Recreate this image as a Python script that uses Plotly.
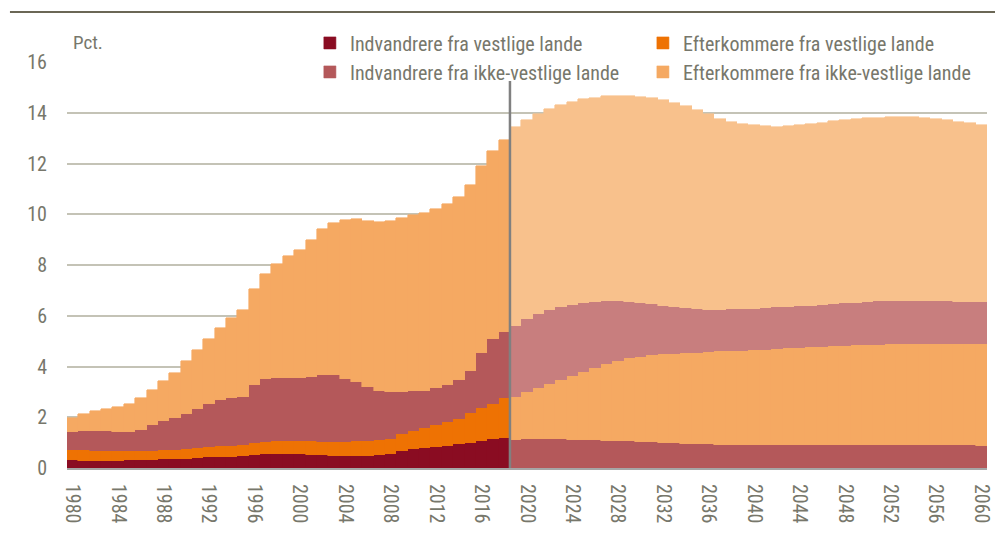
import plotly.graph_objects as go

# Historical years and series (pct.)
years_hist = list(range(1980, 2019))
indv_vest_hist = [0.30, 0.27, 0.27, 0.27, 0.29, 0.30, 0.31, 0.33, 0.34, 0.35,
                  0.36, 0.39, 0.42, 0.43, 0.45, 0.47, 0.50, 0.54, 0.56, 0.56,
                  0.54, 0.51, 0.50, 0.48, 0.46, 0.46, 0.49, 0.50, 0.57, 0.68,
                  0.75, 0.79, 0.82, 0.88, 0.93, 0.99, 1.06, 1.13, 1.18]
efterk_vest_hist = [0.42, 0.42, 0.40, 0.40, 0.37, 0.36, 0.36, 0.35, 0.36, 0.37,
                    0.39, 0.39, 0.40, 0.42, 0.42, 0.45, 0.47, 0.48, 0.50, 0.51,
                    0.52, 0.54, 0.53, 0.55, 0.57, 0.59, 0.59, 0.61, 0.59, 0.66,
                    0.72, 0.78, 0.86, 0.93, 1.02, 1.16, 1.30, 1.41, 1.56]
indv_ikke_hist = [0.69, 0.77, 0.79, 0.77, 0.76, 0.76, 0.83, 1.03, 1.17, 1.25,
                  1.39, 1.55, 1.72, 1.82, 1.87, 1.87, 2.32, 2.49, 2.50, 2.48,
                  2.50, 2.55, 2.63, 2.62, 2.48, 2.33, 2.11, 1.93, 1.82, 1.67,
                  1.56, 1.48, 1.46, 1.45, 1.52, 1.69, 2.18, 2.53, 2.61]
efterk_ikke_hist = [0.58, 0.67, 0.78, 0.87, 0.97, 1.09, 1.26, 1.36, 1.55, 1.78,
                    2.06, 2.31, 2.56, 2.86, 3.16, 3.45, 3.78, 4.14, 4.47, 4.81,
                    5.05, 5.39, 5.74, 6.00, 6.27, 6.42, 6.55, 6.66, 6.76, 6.86,
                    6.93, 7.00, 7.06, 7.15, 7.22, 7.31, 7.37, 7.44, 7.57]

# Projection years and series (pct.)
years_proj = list(range(2019, 2061))
indv_vest_proj = [1.12, 1.13, 1.13, 1.13, 1.13, 1.12, 1.11, 1.10, 1.08, 1.07,
                  1.05, 1.04, 1.02, 1.00, 0.98, 0.96, 0.95, 0.93, 0.92, 0.91,
                  0.90, 0.89, 0.89, 0.89, 0.90, 0.90, 0.90, 0.90, 0.90, 0.90,
                  0.90, 0.91, 0.91, 0.91, 0.91, 0.90, 0.90, 0.90, 0.90, 0.89,
                  0.89, 0.88]
efterk_vest_proj = [1.69, 1.85, 2.01, 2.18, 2.34, 2.51, 2.67, 2.84, 3.02, 3.16,
                    3.27, 3.34, 3.42, 3.48, 3.52, 3.57, 3.60, 3.65, 3.69, 3.71,
                    3.73, 3.75, 3.77, 3.80, 3.81, 3.83, 3.85, 3.87, 3.89, 3.91,
                    3.93, 3.94, 3.95, 3.96, 3.97, 3.99, 4.00, 4.00, 4.00, 4.00,
                    3.99, 3.99]
indv_ikke_proj = [2.79, 2.88, 2.91, 2.91, 2.88, 2.81, 2.74, 2.62, 2.47, 2.34,
                  2.24, 2.14, 2.03, 1.92, 1.85, 1.77, 1.71, 1.66, 1.63, 1.64,
                  1.64, 1.64, 1.64, 1.64, 1.64, 1.64, 1.64, 1.65, 1.66, 1.68,
                  1.69, 1.70, 1.71, 1.72, 1.72, 1.71, 1.70, 1.69, 1.68, 1.67,
                  1.67, 1.66]
efterk_ikke_proj = [7.82, 7.86, 7.92, 7.92, 7.94, 7.98, 8.01, 8.03, 8.08, 8.09,
                    8.10, 8.11, 8.11, 8.10, 8.03, 7.95, 7.85, 7.70, 7.53, 7.39,
                    7.30, 7.22, 7.16, 7.11, 7.11, 7.13, 7.16, 7.19, 7.22, 7.23,
                    7.24, 7.24, 7.24, 7.24, 7.24, 7.23, 7.21, 7.18, 7.14, 7.09,
                    7.03, 6.99]

series_names = ["Indvandrere fra vestlige lande", "Efterkommere fra vestlige lande",
                "Indvandrere fra ikke-vestlige lande", "Efterkommere fra ikke-vestlige lande"]
hist_colors = ["#8a0c22", "#ee7203", "#b4585a", "#f5a962"]
proj_colors = ["#b4585a", "#f5a962", "#c87e7e", "#f8c18c"]
legend_ids = ["legend", "legend2", "legend", "legend2"]

hist_series = [indv_vest_hist, efterk_vest_hist, indv_ikke_hist, efterk_ikke_hist]
proj_series = [indv_vest_proj, efterk_vest_proj, indv_ikke_proj, efterk_ikke_proj]

FONT = "Liberation Sans Narrow, Arial Narrow, Roboto Condensed, Roboto, sans-serif"
TXT = "#77776b"

fig = go.Figure()
for name, vals, col, lg in zip(series_names, hist_series, hist_colors, legend_ids):
    fig.add_trace(go.Bar(x=years_hist, y=vals, name=name, width=1, legend=lg,
                         marker=dict(color=col, line=dict(color=col, width=0.6))))
for name, vals, col in zip(series_names, proj_series, proj_colors):
    fig.add_trace(go.Bar(x=years_proj, y=vals, name=name, width=1, showlegend=False,
                         marker=dict(color=col, line=dict(color=col, width=0.6))))

fig.add_shape(type="line", xref="x", yref="y", x0=2018.5, x1=2018.5, y0=0, y1=15.25,
              line=dict(color="#808080", width=2.5))
fig.add_shape(type="line", xref="paper", yref="paper", x0=-0.062, x1=1.02, y0=1.123, y1=1.123,
              line=dict(color="#6b6756", width=2))

fig.add_annotation(text="Pct.", xref="paper", yref="paper", x=0.004, y=1.047,
                   xanchor="left", yanchor="middle", showarrow=False,
                   font=dict(family=FONT, size=19, color=TXT))

legend_common = dict(orientation="v", yanchor="top", y=1.095, xanchor="left",
                     traceorder="normal", itemwidth=30, bgcolor="rgba(0,0,0,0)",
                     font=dict(family=FONT, size=20, color=TXT))

fig.update_layout(
    width=995, height=535,
    margin=dict(l=59, r=16, t=54, b=75, autoexpand=False),
    paper_bgcolor="white", plot_bgcolor="white",
    barmode="stack", bargap=0,
    font=dict(family=FONT, size=20, color=TXT),
    showlegend=True,
    legend=dict(x=0.264, **legend_common),
    legend2=dict(x=0.626, **legend_common),
    xaxis=dict(range=[1979.5, 2060.5], tick0=1980, dtick=4, tickangle=90,
               showgrid=False, showline=True, linecolor="#a6a6a6", linewidth=2,
               ticks="", ticklabelstandoff=10,
               tickfont=dict(family=FONT, size=20, color=TXT), zeroline=False),
    yaxis=dict(range=[0, 16], dtick=2, showgrid=True, gridcolor="#c4c3b6", gridwidth=1.5,
               zeroline=False, ticks="", ticklabelstandoff=19,
               tickfont=dict(family=FONT, size=20, color=TXT)),
)

fig.write_html("out.html")
